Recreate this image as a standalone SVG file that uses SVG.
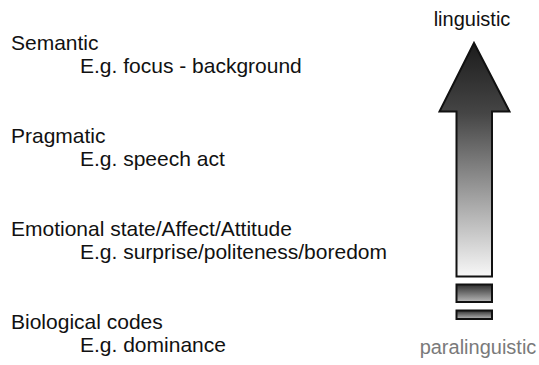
<svg xmlns="http://www.w3.org/2000/svg" width="539" height="365" viewBox="0 0 539 365">
  <style>
    .lbl { font-family: "Liberation Sans", Arial, sans-serif; font-size: 21px; fill: #111; }
    .end { font-family: "Liberation Sans", Arial, sans-serif; font-size: 20px; }
    .shape { stroke: #111; stroke-width: 2; stroke-linejoin: miter; }
  </style>
  <defs>
    <linearGradient id="gArrow" x1="0" y1="43" x2="0" y2="277" gradientUnits="userSpaceOnUse">
      <stop offset="0" stop-color="#1c1c1c"/>
      <stop offset="0.3" stop-color="#454545"/>
      <stop offset="1" stop-color="#f8f8f8"/>
    </linearGradient>
    <linearGradient id="gBlock" x1="0" y1="0" x2="0" y2="1">
      <stop offset="0" stop-color="#2e2e2e"/>
      <stop offset="1" stop-color="#b8b8b8"/>
    </linearGradient>
  </defs>
  <rect width="539" height="365" fill="#fff"/>

  <g id="semantic">
    <text class="lbl" x="11" y="50">Semantic</text>
    <text class="lbl" x="80" y="73">E.g. focus - background</text>
  </g>
  <g id="pragmatic">
    <text class="lbl" x="11" y="143">Pragmatic</text>
    <text class="lbl" x="80" y="166">E.g. speech act</text>
  </g>
  <g id="emotional">
    <text class="lbl" x="11" y="236">Emotional state/Affect/Attitude</text>
    <text class="lbl" x="80" y="259">E.g. surprise/politeness/boredom</text>
  </g>
  <g id="biological">
    <text class="lbl" x="11" y="329">Biological codes</text>
    <text class="lbl" x="80" y="352">E.g. dominance</text>
  </g>

  <g id="scale">
    <path class="shape" fill="url(#gArrow)" d="M474,43 L509.5,111.5 L492,111.5 L492,276.5 L456.5,276.5 L456.5,111.5 L439.5,111.5 Z"/>
    <rect class="shape" fill="url(#gBlock)" x="456.5" y="284.5" width="35.5" height="17.5"/>
    <rect class="shape" fill="url(#gBlock)" x="456.5" y="310.5" width="35.5" height="8.5"/>
    <text class="end" x="472" y="26" text-anchor="middle" fill="#111">linguistic</text>
    <text class="end" x="478" y="354" text-anchor="middle" fill="#7a7a7a">paralinguistic</text>
  </g>
</svg>
